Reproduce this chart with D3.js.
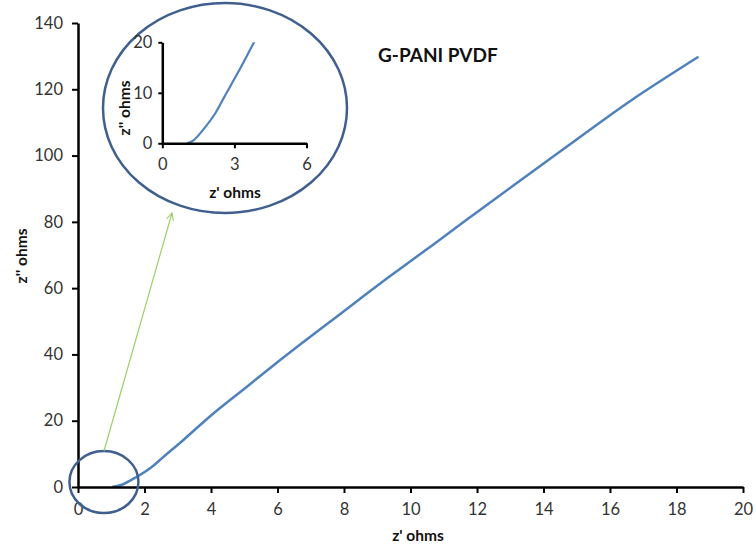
<!DOCTYPE html>
<html><head><meta charset="utf-8">
<script src="https://cdn.jsdelivr.net/npm/d3@7"></script>
<style>body{margin:0;background:#fff;} svg{display:block;}</style>
</head><body>
<svg id="c" width="756" height="547"></svg>
<script>
const zReal = [1.02,1.3,1.77,2.2,2.57,3.17,4.07,5.07,6.08,6.68,7.68,8.68,9.68,10.69,12.09,13.59,15.1,16.6,18.66];
const zImag = [0,0.6,3.1,5.9,9.1,14.2,22.2,30.2,38.3,43.0,50.6,58.3,65.8,73.2,83.6,94.6,105.6,116.4,129.8];
const xTicks = [0,2,4,6,8,10,12,14,16,18,20];
const yTicks = [0,20,40,60,80,100,120,140];
const insetXTicks = [0,3,6];
const insetYTicks = [0,10,20];
const title = "G-PANI PVDF";
const xLabel = "z' ohms";
const yLabel = "z'' ohms";

const data = zReal.map((x,i)=>({x, y:zImag[i]}));
const svg = d3.select("#c");
const font = "Lato, 'Open Sans', sans-serif";
const lineColor = "#4f81bd";
const ringColor = "#3f5f8f";

const x = d3.scaleLinear().domain([0,20]).range([78,743]);
const y = d3.scaleLinear().domain([0,140]).range([487,23]);

const line = d3.line().x(d=>x(d.x)).y(d=>y(d.y)).curve(d3.curveCatmullRom.alpha(0.5));

svg.append("path").datum(data).attr("d", line)
  .attr("fill","none").attr("stroke",lineColor).attr("stroke-width",2.5);

const gx = svg.append("g").attr("transform","translate(0,487)")
  .call(d3.axisBottom(x).tickValues(xTicks).tickFormat(d3.format("d")).tickSize(6).tickPadding(10).tickSizeOuter(0));
const gy = svg.append("g").attr("transform","translate(78,0)")
  .call(d3.axisLeft(y).tickValues(yTicks).tickFormat(d3.format("d")).tickSize(6).tickPadding(9).tickSizeOuter(0));
[gx,gy].forEach(g=>{
  g.select(".domain").attr("stroke","#000").attr("stroke-width",2.5);
  g.selectAll(".tick line").attr("stroke","#000").attr("stroke-width",2);
  g.selectAll(".tick text").attr("font-family",font).attr("font-size",16.5).attr("fill","#333");
});

svg.append("text").attr("x",418).attr("y",541).attr("text-anchor","middle")
  .attr("font-family",font).attr("font-weight","bold").attr("font-size",15.5).attr("fill","#111").text(xLabel);
svg.append("text").attr("transform","translate(27,256) rotate(-90)").attr("text-anchor","middle")
  .attr("font-family",font).attr("font-weight","bold").attr("font-size",15.5).attr("fill","#111").text(yLabel);

svg.append("text").attr("x",378).attr("y",62)
  .attr("font-family",font).attr("font-weight","bold").attr("font-size",19).attr("fill","#111").text(title);

svg.append("ellipse").attr("cx",x(0.78)).attr("cy",y(1.5)).attr("rx",34.5).attr("ry",31)
  .attr("fill","none").attr("stroke",ringColor).attr("stroke-width",2.5);

const defs = svg.append("defs");
defs.append("marker").attr("id","arr").attr("viewBox","0 0 10 10").attr("refX",9).attr("refY",5)
  .attr("markerWidth",9).attr("markerHeight",9).attr("orient","auto").attr("markerUnits","userSpaceOnUse")
  .append("path").attr("d","M1,1 L9,5 L1,9").attr("fill","none").attr("stroke","#9ccf6a").attr("stroke-width",1.2);
svg.append("line").attr("x1",104).attr("y1",451).attr("x2",172).attr("y2",213)
  .attr("stroke","#9ccf6a").attr("stroke-width",1.2).attr("marker-end","url(#arr)");

svg.append("ellipse").attr("cx",225).attr("cy",108).attr("rx",122).attr("ry",105)
  .attr("fill","none").attr("stroke",ringColor).attr("stroke-width",2.5);

const ix = d3.scaleLinear().domain([0,6]).range([162.3,306.5]);
const iy = d3.scaleLinear().domain([0,20]).range([143.3,42.3]);
defs.append("clipPath").attr("id","ic").append("rect")
  .attr("x",ix(0)).attr("y",iy(20)).attr("width",ix(6)-ix(0)).attr("height",iy(0)-iy(20));
const iline = d3.line().x(d=>ix(d.x)).y(d=>iy(d.y)).curve(d3.curveCatmullRom.alpha(0.5));
svg.append("path").datum(data.filter(d=>d.x<=6.1)).attr("d", iline).attr("clip-path","url(#ic)")
  .attr("fill","none").attr("stroke",lineColor).attr("stroke-width",2.2);

const igx = svg.append("g").attr("transform",`translate(0,${iy(0)})`)
  .call(d3.axisBottom(ix).tickValues(insetXTicks).tickFormat(d3.format("d")).tickSize(5).tickPadding(10).tickSizeOuter(0));
const igy = svg.append("g").attr("transform",`translate(${ix(0)},0)`)
  .call(d3.axisLeft(iy).tickValues(insetYTicks).tickFormat(d3.format("d")).tickSize(4).tickPadding(6).tickSizeOuter(0));
[igx,igy].forEach(g=>{
  g.select(".domain").attr("stroke","#000").attr("stroke-width",2.5);
  g.selectAll(".tick line").attr("stroke","#000").attr("stroke-width",2);
  g.selectAll(".tick text").attr("font-family",font).attr("font-size",16.5).attr("fill","#333");
});
svg.append("text").attr("x",235).attr("y",198).attr("text-anchor","middle")
  .attr("font-family",font).attr("font-weight","bold").attr("font-size",15.5).attr("fill","#111").text(xLabel);
svg.append("text").attr("transform","translate(130,108) rotate(-90)").attr("text-anchor","middle")
  .attr("font-family",font).attr("font-weight","bold").attr("font-size",15.5).attr("fill","#111").text(yLabel);
</script>
</body></html>
